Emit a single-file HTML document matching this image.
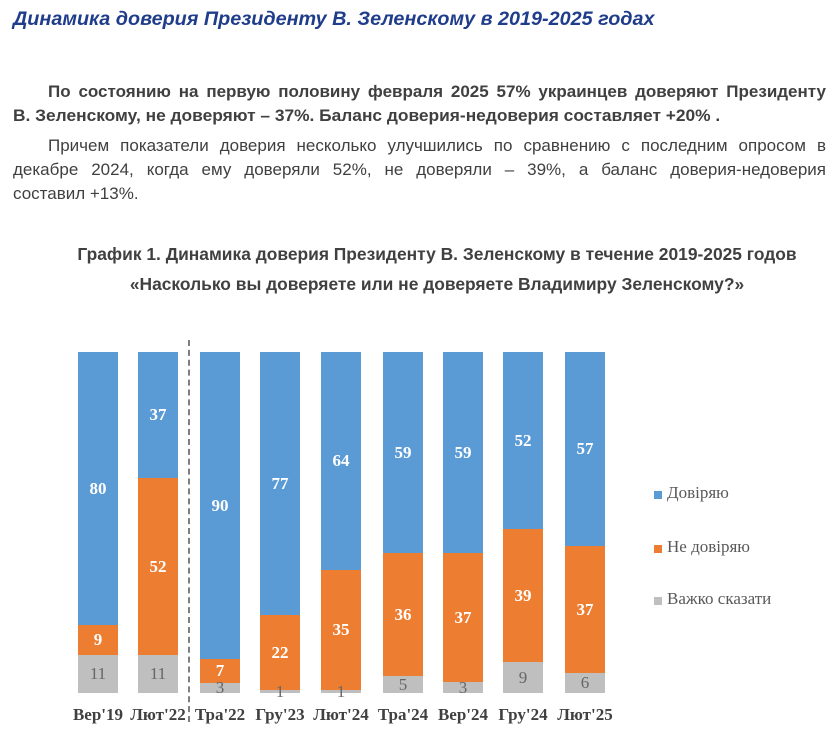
<!DOCTYPE html>
<html><head><meta charset="utf-8"><style>
body{margin:0;width:834px;height:736px;background:#fff;position:relative;overflow:hidden;font-family:"Liberation Sans",sans-serif}
.t{position:absolute;white-space:nowrap}
.h1{left:13px;top:8px;font-size:19.8px;font-weight:bold;font-style:italic;color:#1f3d8a}
.p{font-size:17px;color:#404040;transform-origin:0 0}
.j{position:absolute;font-size:17px;color:#404040;text-align:justify;text-align-last:justify;white-space:nowrap}
.ct{font-size:17.4px;font-weight:bold;color:#404040;left:0;width:874px;text-align:center}
.s{position:absolute;width:40px;display:flex;align-items:center;justify-content:center;font-family:"Liberation Serif",serif;font-size:17px;font-weight:bold;color:#fff}
.b{background:#5b9bd5}.o{background:#ed7d31}.g{background:#bfbfbf;color:#666;font-weight:normal}
.x{position:absolute;top:705px;width:80px;text-align:center;font-family:"Liberation Serif",serif;font-size:17px;font-weight:bold;color:#404040}
.lg{position:absolute;left:654px;width:8px;height:8px}
.lt{position:absolute;left:667px;font-family:"Liberation Serif",serif;font-size:17px;color:#595959}
</style></head><body>
<div class="t h1">Динамика доверия Президенту В. Зеленскому в 2019-2025 годах</div>
<div class="j" style="left:48px;top:82px;width:778px;font-weight:bold">По состоянию на первую половину февраля 2025 57% украинцев доверяют Президенту</div>
<div class="t p" style="left:13px;top:106px;font-weight:bold;transform:scaleX(1.02)">В. Зеленскому, не доверяют – 37%. Баланс доверия-недоверия составляет +20% .</div>
<div class="j" style="left:48px;top:136px;width:778px">Причем показатели доверия несколько улучшились по сравнению с последним опросом в</div>
<div class="j" style="left:13px;top:160px;width:813px">декабре 2024, когда ему доверяли 52%, не доверяли – 39%, а баланс доверия-недоверия</div>
<div class="t p" style="left:13px;top:184px">составил +13%.</div>
<div class="t ct" style="top:244px">График 1. Динамика доверия Президенту В. Зеленскому в течение 2019-2025 годов</div>
<div class="t ct" style="top:274px">«Насколько вы доверяете или не доверяете Владимиру Зеленскому?»</div>

<div style="position:absolute;left:188px;top:340px;height:382px;border-left:2px dashed #7f7f7f"></div>

<div class="s b" style="left:78px;top:352px;height:273px">80</div>
<div class="s o" style="left:78px;top:625px;height:30px">9</div>
<div class="s g" style="left:78px;top:655px;height:38px">11</div>

<div class="s b" style="left:138px;top:352px;height:126px">37</div>
<div class="s o" style="left:138px;top:478px;height:177px">52</div>
<div class="s g" style="left:138px;top:655px;height:38px">11</div>

<div class="s b" style="left:200px;top:352px;height:307px">90</div>
<div class="s o" style="left:200px;top:659px;height:24px">7</div>
<div class="s g" style="left:200px;top:683px;height:10px">3</div>

<div class="s b" style="left:260px;top:352px;height:263px">77</div>
<div class="s o" style="left:260px;top:615px;height:75px">22</div>
<div class="s g" style="left:260px;top:690px;height:3px">1</div>

<div class="s b" style="left:321px;top:352px;height:218px">64</div>
<div class="s o" style="left:321px;top:570px;height:120px">35</div>
<div class="s g" style="left:321px;top:690px;height:3px">1</div>

<div class="s b" style="left:383px;top:352px;height:201px">59</div>
<div class="s o" style="left:383px;top:553px;height:123px">36</div>
<div class="s g" style="left:383px;top:676px;height:17px">5</div>

<div class="s b" style="left:443px;top:352px;height:201px">59</div>
<div class="s o" style="left:443px;top:553px;height:129px">37</div>
<div class="s g" style="left:443px;top:682px;height:11px">3</div>

<div class="s b" style="left:503px;top:352px;height:177px">52</div>
<div class="s o" style="left:503px;top:529px;height:133px">39</div>
<div class="s g" style="left:503px;top:662px;height:31px">9</div>

<div class="s b" style="left:565px;top:352px;height:194px">57</div>
<div class="s o" style="left:565px;top:546px;height:127px">37</div>
<div class="s g" style="left:565px;top:673px;height:20px">6</div>

<div class="x" style="left:58px">Вер'19</div>
<div class="x" style="left:118px">Лют'22</div>
<div class="x" style="left:180px">Тра'22</div>
<div class="x" style="left:240px">Гру'23</div>
<div class="x" style="left:301px">Лют'24</div>
<div class="x" style="left:363px">Тра'24</div>
<div class="x" style="left:423px">Вер'24</div>
<div class="x" style="left:483px">Гру'24</div>
<div class="x" style="left:545px">Лют'25</div>

<div class="lg" style="top:491px;background:#5b9bd5"></div><div class="lt" style="top:483px">Довіряю</div>
<div class="lg" style="top:545px;background:#ed7d31"></div><div class="lt" style="top:537px">Не довіряю</div>
<div class="lg" style="top:597px;background:#bfbfbf"></div><div class="lt" style="top:589px">Важко сказати</div>
</body></html>
